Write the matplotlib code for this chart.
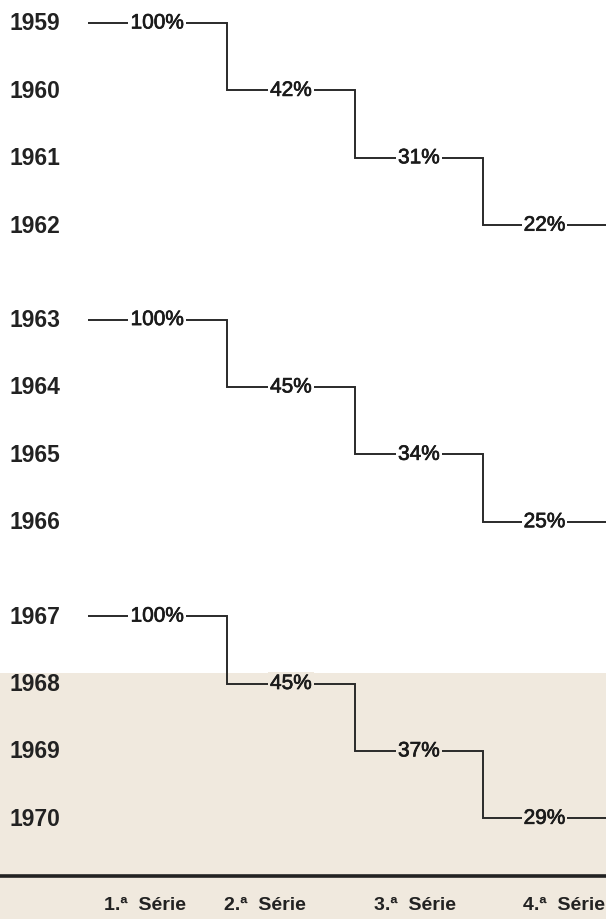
import matplotlib.pyplot as plt
import matplotlib.patheffects as pe

plt.rcParams['font.family'] = ['Liberation Sans', 'DejaVu Sans']

# data
years = [[1959, 1960, 1961, 1962],
         [1963, 1964, 1965, 1966],
         [1967, 1968, 1969, 1970]]
percent = [[100, 42, 31, 22],
           [100, 45, 34, 25],
           [100, 45, 37, 29]]
series = ["1.ª  Série", "2.ª  Série", "3.ª  Série", "4.ª  Série"]
serie_x = [0.36, 1.30, 2.47, 3.63]

# layout (series units on x, row units on y)
x_left, x_right = -0.773, 3.961
y_top, y_bottom = -0.356, 13.294
line_start = -0.086
group_gap = 0.4
beige_top = 9.644
baseline_y = 12.66
labels_y = 13.08

white = "white"
beige = "#f0e9de"
ink = "#2a2a2a"

fig = plt.figure(figsize=(6.06, 9.2), dpi=100)
ax = fig.add_axes([0, 0, 1, 1])
ax.set_xlim(x_left, x_right)
ax.set_ylim(y_bottom, y_top)
ax.axis("off")

ax.axhspan(beige_top, y_bottom, color=beige, zorder=0, lw=0)

# a bit heavier than regular, like the printed labels
heavy = [pe.withStroke(linewidth=0.5, foreground="#1a1a1a")]

edges = [line_start, 1, 2, 3, x_right + 0.05]
for g in range(len(years)):
    rows = [i + g * (4 + group_gap) for i in range(4)]
    ax.stairs(rows, edges, baseline=None, color=ink, lw=1.4, zorder=2)
    for i, yr in enumerate(years[g]):
        ax.text(-0.70, rows[i], str(yr), fontsize=16.5, fontweight="bold",
                color="#222222", ha="left", va="center")
        mid = (edges[i] + min(edges[i + 1], x_right)) / 2
        bg = beige if rows[i] > beige_top else white
        ax.text(mid, rows[i], f"{percent[g][i]}%", fontsize=15, color="#1a1a1a",
                ha="center", va="center", zorder=3, path_effects=heavy,
                bbox=dict(boxstyle="square,pad=0.1", fc=bg, ec="none"))

ax.axhline(baseline_y, color="#222222", lw=2.6, zorder=2)
for sx, name in zip(serie_x, series):
    ax.text(sx, labels_y, name, fontsize=14, fontweight="bold", color="#222222",
            ha="center", va="center")

plt.savefig("out.png", dpi=100)
plt.close()
